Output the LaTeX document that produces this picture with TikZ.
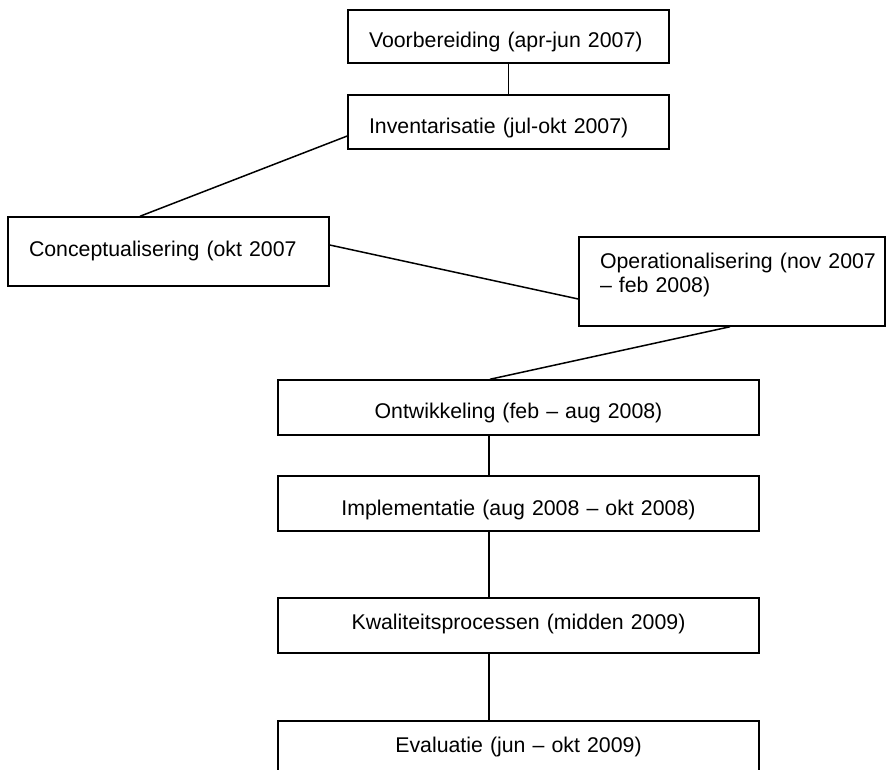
\documentclass[tikz,border=0pt]{standalone}
\usepackage{fontspec}
\setmainfont{Liberation Sans}
\begin{document}
\begin{tikzpicture}[x=1pt,y=-1pt,
  fase/.style={draw,line width=1.5pt,inner ysep=0pt,font=\fontsize{21.3}{24}\selectfont},
  links/.style={fase,inner xsep=21pt,text width=#1,align=left},
  midden/.style={fase,inner xsep=0pt,text width=481pt,align=center},
  lijn/.style={line width=1.5pt}]
\useasboundingbox (0,0) rectangle (886,769);
\node (1) at (508.5,36.5) [links=279pt,text height=37pt,text depth=16pt] {Voorbereiding (apr-jun 2007)};
\node (2) at (508.5,122) [links=279pt,text height=38pt,text depth=16pt] {Inventarisatie (jul-okt 2007)};
\node (3) at (168.5,251.5) [links=279pt,text height=39pt,text depth=30pt] {Conceptualisering (okt 2007};
\node (4) at (732,281.5) [links=264pt,text height=31pt,text depth=58pt] {Operationalisering~(nov~2007\\ – feb 2008)};
\node (5) at (518.5,407.5) [midden,text height=38pt,text depth=17pt] {Ontwikkeling (feb – aug 2008)};
\node (6) at (518.5,503.5) [midden,text height=39pt,text depth=16pt] {Implementatie (aug 2008 – okt 2008)};
\node (7) at (518.5,625.5) [midden,text height=31pt,text depth=24pt] {Kwaliteitsprocessen (midden 2009)};
\node (8) at (518.5,748.5) [midden,text height=31pt,text depth=24pt] {Evaluatie (jun – okt 2009)};
\draw[lijn] (1) -- (2);
\draw[lijn] ([yshift=-14pt]2.west) -- ([xshift=-28.5pt]3.north);
\draw[lijn] ([yshift=6.5pt]3.east) -- ([yshift=-17.5pt]4.west);
\draw[lijn] ([xshift=-2pt]4.south) -- ([xshift=-28.5pt]5.north);
\draw[lijn] ([xshift=-29.5pt]5.south) -- ([xshift=-29.5pt]6.north);
\draw[lijn] ([xshift=-29.5pt]6.south) -- ([xshift=-29.5pt]7.north);
\draw[lijn] ([xshift=-29.5pt]7.south) -- ([xshift=-29.5pt]8.north);
\end{tikzpicture}
\end{document}
